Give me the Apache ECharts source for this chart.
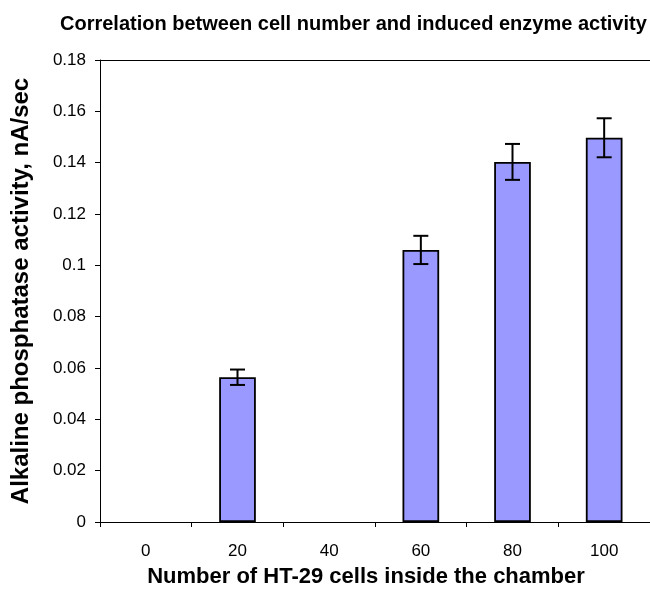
<!DOCTYPE html>
<html><head><meta charset="utf-8">
<script src="https://cdn.jsdelivr.net/npm/echarts@6/dist/echarts.min.js"></script>
<style>html,body{margin:0;padding:0;background:#fff}#c{width:650px;height:598px}</style>
</head><body><div id="c"></div>
<script>
const categories = ['0','20','40','60','80','100'];
const activity = [0, 0.0564, 0, 0.106, 0.1403, 0.1497];
const errors = [0, 0.003, 0, 0.0055, 0.007, 0.0076];
const yTicks = [0, 0.02, 0.04, 0.06, 0.08, 0.1, 0.12, 0.14, 0.16, 0.18];

const chart = echarts.init(document.getElementById('c'));
const font = 'Liberation Sans, Arial, sans-serif';
const barData = activity.map(v => v === 0 ? { value: v, itemStyle: { borderWidth: 0 } } : v);
const errData = categories.map((c, i) => [i, activity[i] - errors[i], activity[i] + errors[i], errors[i]]);
chart.setOption({
  animation: false,
  textStyle: { fontFamily: font },
  title: {
    text: 'Correlation between cell number and induced enzyme activity',
    left: 55, top: 9,
    textStyle: { fontFamily: font, fontSize: 20, fontWeight: 'bold', color: '#000' }
  },
  grid: { left: 100, right: 0, top: 60, bottom: 76 },
  xAxis: [{
    type: 'category', data: categories,
    name: 'Number of HT-29 cells inside the chamber',
    nameLocation: 'middle', nameGap: 44,
    nameTextStyle: { fontFamily: font, fontSize: 22, fontWeight: 'bold', color: '#000', padding: [0, 18, 0, 0] },
    axisLine: { lineStyle: { color: '#000', width: 1 } },
    axisTick: { show: true, length: 5, lineStyle: { color: '#000' } },
    axisLabel: { fontFamily: font, fontSize: 17, color: '#000', margin: 21 }
  }, {
    type: 'category', data: categories, position: 'top',
    axisLine: { show: true, lineStyle: { color: '#000', width: 1 } },
    axisTick: { show: false }, axisLabel: { show: false }
  }],
  yAxis: {
    type: 'value', min: 0, max: 0.18, interval: 0.02,
    name: 'Alkaline phosphatase activity, nA/sec',
    nameLocation: 'middle', nameGap: 67,
    nameTextStyle: { fontFamily: font, fontSize: 24, fontWeight: 'bold', color: '#000' },
    axisLine: { show: true, lineStyle: { color: '#000', width: 1 } },
    axisTick: { show: true, length: 5, lineStyle: { color: '#000' } },
    splitLine: { show: false },
    axisLabel: {
      fontFamily: font, fontSize: 17, color: '#000', margin: 14,
      formatter: v => { const t = yTicks.find(x => Math.abs(x - v) < 1e-9); return String(+(t !== undefined ? t : v).toFixed(2)); }
    }
  },
  series: [{
    type: 'bar', data: barData, barWidth: '40%',
    itemStyle: { color: '#9999FF', borderColor: '#000', borderWidth: 1.8 }
  }, {
    type: 'custom', data: errData,
    renderItem: function (params, api) {
      if (api.value(3) === 0) return;
      const x = api.value(0);
      const lo = api.coord([x, api.value(1)]);
      const hi = api.coord([x, api.value(2)]);
      const hw = 7.5;
      const style = { stroke: '#000', lineWidth: 2 };
      return { type: 'group', children: [
        { type: 'line', shape: { x1: lo[0], y1: lo[1], x2: hi[0], y2: hi[1] }, style },
        { type: 'line', shape: { x1: lo[0] - hw, y1: lo[1], x2: lo[0] + hw, y2: lo[1] }, style },
        { type: 'line', shape: { x1: hi[0] - hw, y1: hi[1], x2: hi[0] + hw, y2: hi[1] }, style }
      ]};
    },
    z: 10
  }]
});
</script></body></html>
